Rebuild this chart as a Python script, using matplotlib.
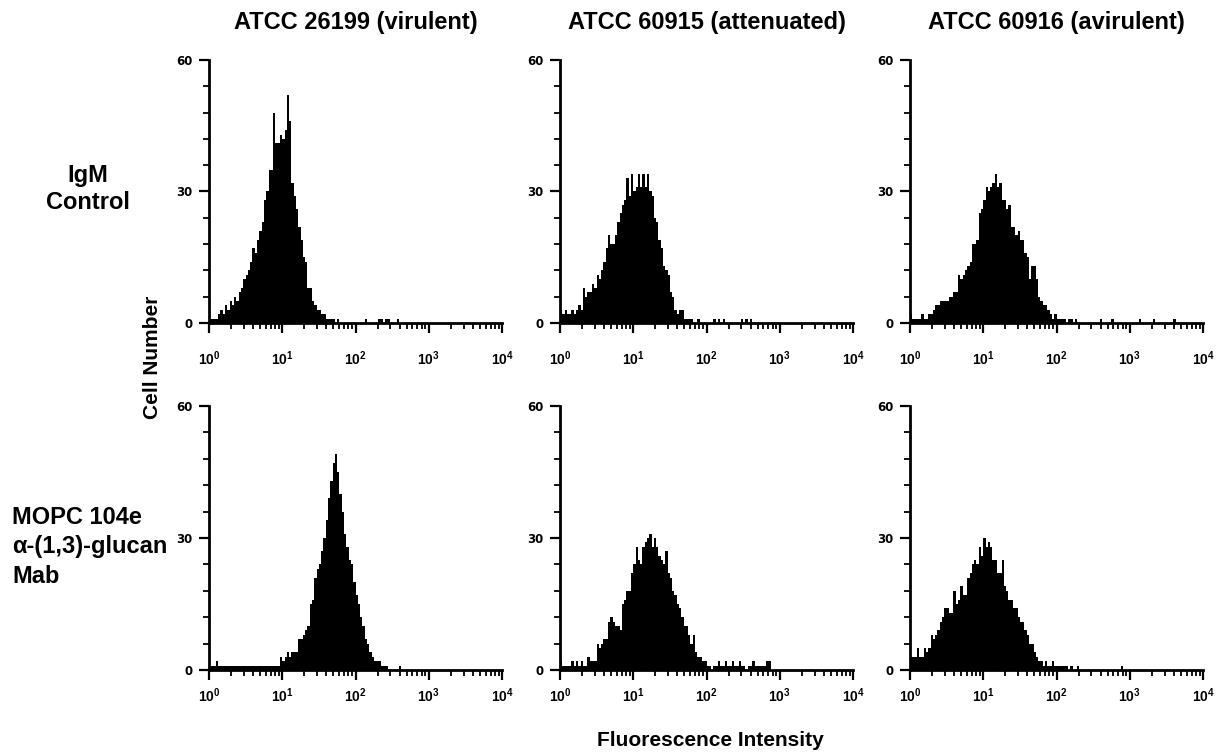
import numpy as np
import matplotlib
matplotlib.use("Agg")
import matplotlib.pyplot as plt
from matplotlib.ticker import FixedLocator, LogLocator, NullFormatter, MultipleLocator

plt.rcParams['font.family'] = ['Liberation Sans', 'DejaVu Sans']
plt.rcParams['mathtext.fontset'] = 'custom'
plt.rcParams['mathtext.bf'] = 'Liberation Sans:bold'
plt.rcParams['mathtext.rm'] = 'Liberation Sans:bold'

# ---------------- data ----------------
strains = ["ATCC 26199 (virulent)", "ATCC 60915 (attenuated)", "ATCC 60916 (avirulent)"]
row_labels = ["IgM\nControl", "MOPC 104e\nα-(1,3)-glucan\nMab"]
x_label = "Fluorescence Intensity"
y_label = "Cell Number"
decade_ticks = [1, 10, 100, 1000, 10000]
x_tick_labels = [r'$\mathbf{10^{0}}$', r'$\mathbf{10^{1}}$', r'$\mathbf{10^{2}}$',
                 r'$\mathbf{10^{3}}$', r'$\mathbf{10^{4}}$']
y_ticks = [0, 30, 60]
y_tick_labels = ["0", "30", "60"]
bins_per_decade = 32      # 128 log channels over 4 decades

# cell counts per channel (channels 0..127)
igm_26199 = ([1, 1, 1, 1, 2, 3, 2, 4, 3, 5,
              4, 6, 5, 7, 8, 10, 11, 12, 14, 17,
              16, 19, 21, 23, 28, 30, 35, 35, 48, 41,
              41, 43, 42, 44, 52, 46, 32, 29, 26, 22,
              19, 15, 14, 8, 8, 5, 4, 3, 3, 2,
              2, 1, 1, 1, 1, 0, 1, 0, 0, 0,
              0, 0, 0, 0, 0, 0, 0, 0, 1, 0,
              0, 0, 0, 0, 1, 1, 0, 1, 1, 0,
              0, 0, 1, 0, 0, 0, 0, 0, 0, 0] + [0] * 38)
igm_60915 = ([3, 2, 3, 2, 2, 3, 2, 3, 4, 3,
              8, 6, 7, 7, 9, 8, 11, 10, 12, 14,
              17, 20, 18, 18, 20, 23, 25, 27, 28, 33,
              29, 34, 30, 31, 34, 31, 34, 31, 34, 30,
              29, 24, 23, 19, 17, 13, 12, 11, 7, 6,
              3, 2, 3, 3, 1, 1, 1, 1, 0, 0,
              1, 0, 0, 0, 0, 0, 0, 1, 0, 1,
              0, 1, 0, 0, 0, 0, 0, 0, 0, 1,
              0, 1, 0, 1, 0, 0, 0, 0, 0, 0] + [0] * 38)
igm_60916 = ([2, 1, 1, 1, 1, 2, 1, 1, 2, 2,
              3, 4, 4, 5, 5, 5, 5, 6, 6, 7,
              7, 11, 10, 11, 12, 13, 14, 18, 18, 19,
              25, 26, 28, 31, 30, 31, 32, 34, 31, 32,
              28, 28, 26, 27, 22, 22, 20, 21, 19, 19,
              16, 15, 10, 13, 13, 10, 6, 5, 4, 4,
              3, 2, 1, 2, 1, 1, 1, 1, 0, 1,
              1, 0, 1, 0, 0, 0, 0, 0, 0, 0,
              0, 0, 0, 1, 0, 0, 0, 0, 1, 0,
              0, 0, 0, 0, 0, 0, 0, 0, 0, 0,
              1, 0, 0, 0, 0, 0, 1, 0, 0, 0,
              0, 0, 0, 0, 0, 1, 0, 0, 0, 0,
              0, 0, 0, 0, 0, 0, 0, 0])
mab_26199 = ([1, 1, 1, 2, 1, 1, 1, 1, 1, 1,
              1, 1, 1, 1, 1, 1, 1, 1, 1, 1,
              1, 1, 1, 1, 1, 1, 1, 1, 1, 1,
              1, 3, 2, 3, 4, 3, 4, 4, 4, 7,
              7, 8, 9, 10, 15, 16, 21, 23, 24, 27,
              30, 34, 39, 43, 47, 49, 45, 40, 36, 31,
              28, 25, 24, 20, 17, 15, 12, 10, 7, 6,
              4, 3, 2, 2, 2, 1, 1, 1, 0, 0,
              0, 0, 0, 1, 0, 0, 0, 0, 0, 0] + [0] * 38)
mab_60915 = ([2, 1, 1, 1, 1, 2, 1, 2, 1, 2,
              1, 1, 3, 2, 2, 2, 6, 5, 6, 7,
              7, 11, 12, 11, 10, 10, 9, 15, 16, 18,
              18, 22, 24, 28, 25, 24, 28, 29, 30, 31,
              28, 30, 28, 26, 25, 24, 27, 22, 21, 18,
              17, 15, 14, 12, 10, 10, 8, 6, 8, 4,
              3, 3, 2, 2, 1, 1, 0, 1, 1, 2,
              1, 1, 2, 1, 1, 2, 1, 1, 2, 1,
              1, 0, 1, 1, 2, 1, 1, 1, 1, 1,
              2, 2, 0, 0, 0, 0, 0, 0, 0, 0] + [0] * 28)
mab_60916 = ([3, 3, 3, 5, 3, 3, 5, 4, 5, 8,
              7, 8, 9, 11, 12, 14, 14, 13, 13, 18,
              15, 16, 19, 17, 17, 21, 22, 24, 25, 24,
              28, 26, 30, 28, 29, 28, 25, 25, 22, 22,
              25, 19, 18, 16, 16, 14, 14, 12, 11, 11,
              9, 8, 6, 6, 4, 3, 2, 2, 1, 2,
              1, 1, 2, 1, 1, 1, 1, 1, 1, 0,
              1, 0, 0, 1, 0, 0, 0, 0, 0, 0,
              0, 0, 0, 0, 0, 0, 0, 0, 0, 0,
              0, 0, 1, 0, 0, 0, 0, 0, 0, 0] + [0] * 28)

panels = [[igm_26199, igm_60915, igm_60916],
          [mab_26199, mab_60915, mab_60916]]

# ---------------- layout ----------------
W, H = 1223, 753
fig = plt.figure(figsize=(W / 100, H / 100), dpi=100)
col_left_px = [209, 560, 910]
axes_w_px = 293
row_bottom_px = [323, 670]
row_top_px = [60, 406]
x_pad = [12, 5]

for r in range(2):
    for c in range(3):
        counts = np.array(panels[r][c], dtype=float)
        n = len(counts)
        edges = 10 ** (np.arange(n + 1) / bins_per_decade)
        ax = fig.add_axes([col_left_px[c] / W, (H - row_bottom_px[r]) / H,
                           axes_w_px / W, (row_bottom_px[r] - row_top_px[r]) / H])
        ax.stairs(counts, edges, fill=True, color='black', linewidth=0)
        ax.set_xscale('log')
        ax.set_xlim(decade_ticks[0], decade_ticks[-1])
        ax.set_ylim(y_ticks[0], y_ticks[-1])
        for s in ['top', 'right']:
            ax.spines[s].set_visible(False)
        for s in ['left', 'bottom']:
            ax.spines[s].set_linewidth(2.0)
        ax.xaxis.set_major_locator(FixedLocator(decade_ticks))
        ax.set_xticklabels(x_tick_labels, fontsize=10)
        ax.xaxis.set_minor_locator(LogLocator(base=10, subs=np.arange(2, 10)))
        ax.xaxis.set_minor_formatter(NullFormatter())
        ax.set_yticks(y_ticks)
        ax.set_yticklabels(y_tick_labels, fontsize=8.5, fontweight='bold',
                           family='DejaVu Sans')
        ax.yaxis.set_minor_locator(MultipleLocator(6))
        ax.tick_params(axis='both', which='major', direction='out', length=7, width=1.6)
        ax.tick_params(axis='both', which='minor', direction='out', length=4, width=1.3)
        ax.tick_params(axis='x', which='major', pad=x_pad[r])
        ax.tick_params(axis='y', which='major', pad=5)
        if r == 0:
            cx = (col_left_px[c] + axes_w_px / 2) / W
            fig.text(cx, (H - 22) / H, strains[c], ha='center', va='center',
                     fontsize=17, fontweight='bold')

fig.text(88 / W, (H - 189) / H, row_labels[0], ha='center', va='center',
         fontsize=17, fontweight='bold', multialignment='center', linespacing=1.2)
fig.text(12 / W, (H - 547) / H, row_labels[1], ha='left', va='center',
         fontsize=17, fontweight='bold', multialignment='left', linespacing=1.38)
fig.text(152 / W, (H - 357) / H, y_label, ha='center', va='center', rotation=90,
         fontsize=15, fontweight='bold')
fig.text(710 / W, (H - 740) / H, x_label, ha='center', va='center',
         fontsize=15, fontweight='bold')

fig.savefig("out.png", dpi=100, facecolor='white')
